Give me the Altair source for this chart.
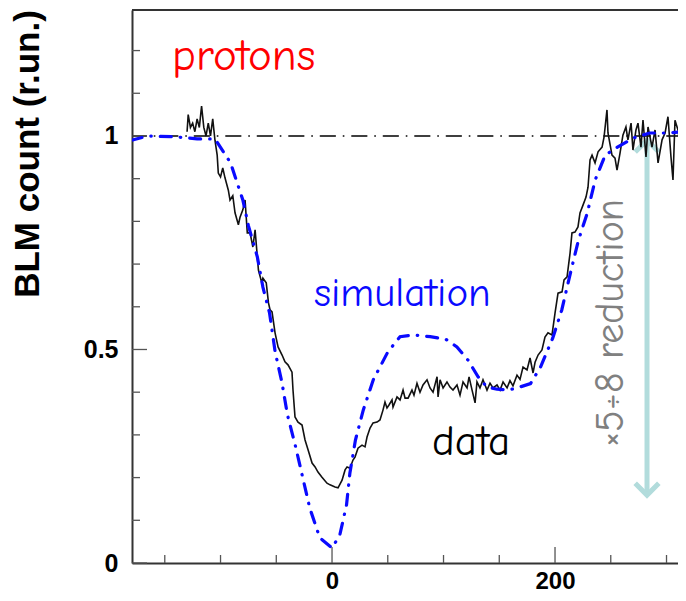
import altair as alt
import pandas as pd

# ---------------- data ----------------
data_x = [-130, -129, -127, -125, -123, -121, -119, -117, -115, -113, -111, -109, -107, -105,
          -103, -102, -100, -98, -96, -93, -91.5, -89, -87, -84, -82.5, -80, -78, -76, -73.5,
          -71, -69, -67, -66, -63, -62, -59, -57, -55.6, -53.8, -51.1, -48.4, -44.8, -42.2,
          -39.5, -35.9, -35.0, -33.2, -30.5, -26.9, -24.2, -21.5, -17.9, -15.2, -12.6, -9.0,
          -4.5, -1.8, 2.7, 5.4, 9.0, 11.7, 13.5, 16.1, 18.8, 20.6, 23.3, 26.9, 29.6, 31.4,
          34.1, 36.8, 40.4, 43.0, 45.7, 47.5, 49.3, 51.1, 53.8, 54.7, 58.3, 61.0, 63.7, 65.5,
          68.2, 71.7, 73.5, 76.2, 78.9, 81.6, 85.2, 87.9, 90.6, 94.2, 95.1, 96.9, 99.6, 103.1,
          105.8, 108.5, 112.1, 114.8, 117.5, 121.1, 122.9, 125.6, 128.3, 130.0, 132.7, 135.4,
          139.0, 141.7, 144.4, 148.0, 150.7, 153.4, 157.0, 159.6, 162.3, 165.9, 168.6, 171.3,
          174.9, 177.6, 180.3, 182.1, 184.8, 188.3, 191.0, 193.7, 197.3, 200.0, 202.7, 206.3,
          208.1, 210.8, 213.5, 215.2, 217.9, 220.6, 222.4, 225.1, 227.8, 229.6, 231.4, 233.2,
          235.9, 238.6, 242.2, 244.0, 246.6, 247.5, 251.1, 253.8, 255.6, 258.3, 260.9, 263.6,
          265.4, 268.2, 269.9, 272.6, 274.4, 277.1, 278.9, 281.6, 283.4, 287.0, 289.7, 292.4,
          296.0, 298.7, 301.3, 304.0, 305.8, 307.6, 310.3, 313.9, 316.6]
data_y = [1.01, 1.05, 1.02, 1.03, 1.01, 1.04, 1.02, 1.07, 1.02, 1.0, 1.03, 1.0, 1.04, 0.99,
          0.955, 0.913, 0.904, 0.925, 0.902, 0.873, 0.85, 0.86, 0.82, 0.792, 0.81, 0.827, 0.85,
          0.773, 0.773, 0.74, 0.78, 0.717, 0.686, 0.656, 0.667, 0.656, 0.609, 0.593, 0.588,
          0.539, 0.506, 0.487, 0.471, 0.464, 0.447, 0.405, 0.342, 0.33, 0.323, 0.288, 0.265,
          0.234, 0.225, 0.213, 0.201, 0.187, 0.183, 0.178, 0.176, 0.194, 0.218, 0.225, 0.222,
          0.241, 0.248, 0.269, 0.276, 0.272, 0.295, 0.316, 0.328, 0.33, 0.335, 0.358, 0.377,
          0.363, 0.37, 0.382, 0.365, 0.389, 0.382, 0.405, 0.386, 0.386, 0.405, 0.393, 0.421,
          0.4, 0.417, 0.429, 0.41, 0.4, 0.436, 0.389, 0.429, 0.41, 0.424, 0.412, 0.405, 0.417,
          0.393, 0.424, 0.41, 0.436, 0.405, 0.375, 0.424, 0.41, 0.429, 0.405, 0.421, 0.41,
          0.417, 0.405, 0.424, 0.41, 0.427, 0.415, 0.44, 0.43, 0.459, 0.452, 0.48, 0.445, 0.47,
          0.487, 0.499, 0.529, 0.539, 0.534, 0.585, 0.632, 0.635, 0.663, 0.67, 0.726, 0.773,
          0.775, 0.787, 0.82, 0.838, 0.857, 0.88, 0.944, 0.955, 0.937, 0.963, 0.974, 0.998,
          1.061, 1.007, 0.955, 0.948, 0.92, 0.96, 1.002, 1.021, 0.991, 1.03, 0.967, 1.014,
          1.03, 0.974, 1.037, 0.951, 1.021, 0.974, 1.014, 0.937, 0.991, 1.007, 1.045, 0.951,
          0.897, 1.037, 1.014, 0.937, 1.03]

sim_x = [-180, -165, -140, -121, -105, -91, -80, -75, -67, -62, -56, -51, -45, -40, -33, -20,
         -11, 0, 7, 13, 16, 21, 28, 37, 50, 61, 73, 88, 102, 112, 122, 131, 139, 148, 158, 166,
         178, 187, 198, 206, 213, 221, 229, 236, 245, 256, 270, 285, 300, 317]
sim_y = [0.99, 1.0, 0.998, 0.993, 0.993, 0.937, 0.85, 0.79, 0.717, 0.646, 0.585, 0.494, 0.424,
         0.347, 0.276, 0.129, 0.059, 0.035, 0.066, 0.136, 0.21, 0.288, 0.358, 0.429, 0.494,
         0.53, 0.534, 0.53, 0.524, 0.506, 0.475, 0.436, 0.412, 0.407, 0.405, 0.41, 0.42, 0.459,
         0.527, 0.592, 0.67, 0.756, 0.82, 0.897, 0.955, 0.974, 0.995, 1.007, 1.007, 1.01]

ref_x = [-180, 320]
ref_y = [1.0, 1.0]

arrow_x = [282.5]
arrow_y_low = [0.159]
arrow_y_high = [0.99]

ytick_minor = [0.1, 0.2, 0.3, 0.4, 0.6, 0.7, 0.8, 0.9, 1.1, 1.2]
ytick_major = [0, 0.5, 1]
xtick_minor = [-150, -100, -50, 50, 100, 150, 250, 300]
xtick_major = [0, 200]

# ---------------- layout ----------------
W, H = 546, 553
xs = alt.Scale(domain=[-179.4, 310.3], nice=False, zero=False)
ys = alt.Scale(domain=[0, 1.295], nice=False, zero=False)

df_data = pd.DataFrame({"x": data_x, "y": data_y})
df_sim = pd.DataFrame({"x": sim_x, "y": sim_y})
df_ref = pd.DataFrame({"x": ref_x, "y": ref_y})
df_arrow = pd.DataFrame({"x": arrow_x, "lo": arrow_y_low, "hi": arrow_y_high})
one = pd.DataFrame({"a": [0]})

comic = "Comic Neue, Noto Sans"
axis_font = "Liberation Sans"

x_axis = alt.Axis(values=xtick_major, ticks=False, grid=False, domainColor="#333333",
                  domainWidth=2, labelFont=axis_font, labelFontWeight="bold",
                  labelFontSize=24, labelColor="black", labelPadding=6, title="")
y_axis = alt.Axis(values=ytick_major, format="~g", ticks=False, grid=False,
                  domainColor="#333333", domainWidth=2, labelFont=axis_font,
                  labelFontWeight="bold", labelFontSize=25, labelColor="black",
                  labelPadding=14, title="")

ref_line = alt.Chart(df_ref).mark_line(
    color="black", strokeWidth=1.5, strokeDash=[15, 8, 0.5, 8], strokeCap="round", clip=True
).encode(x=alt.X("x:Q", scale=xs, axis=x_axis), y=alt.Y("y:Q", scale=ys, axis=y_axis))

data_line = alt.Chart(df_data).mark_line(
    color="#111111", strokeWidth=1.6, clip=True
).encode(x=alt.X("x:Q", scale=xs), y=alt.Y("y:Q", scale=ys))

sim_line = alt.Chart(df_sim).mark_line(
    color="#0a0aff", strokeWidth=3.2, strokeDash=[11, 9, 0.5, 9], strokeCap="round",
    clip=True
).encode(x=alt.X("x:Q", scale=xs), y=alt.Y("y:Q", scale=ys))

arrow_color = "#b2dcdc"
arrow_shaft = alt.Chart(df_arrow).mark_rule(color=arrow_color, strokeWidth=5).encode(
    x=alt.X("x:Q", scale=xs), y=alt.Y("lo:Q", scale=ys), y2="hi:Q")
arrow_top = alt.Chart(df_arrow).mark_point(
    shape="M -1 1 L 0 0 L 1 1", filled=False, stroke=arrow_color, strokeWidth=5,
    size=560, opacity=1
).encode(x=alt.X("x:Q", scale=xs), y=alt.Y("hi:Q", scale=ys))
arrow_bot = alt.Chart(df_arrow).mark_point(
    shape="M -1 -1 L 0 0 L 1 -1", filled=False, stroke=arrow_color, strokeWidth=5,
    size=560, opacity=1
).encode(x=alt.X("x:Q", scale=xs), y=alt.Y("lo:Q", scale=ys))

tick_color = "#555555"
yt_minor = alt.Chart(pd.DataFrame({"y": ytick_minor})).mark_rule(
    color=tick_color, strokeWidth=1.3).encode(
    y=alt.Y("y:Q", scale=ys), x=alt.value(0), x2=alt.value(8))
yt_major = alt.Chart(pd.DataFrame({"y": ytick_major})).mark_rule(
    color=tick_color, strokeWidth=1.3).encode(
    y=alt.Y("y:Q", scale=ys), x=alt.value(0), x2=alt.value(15))
xt_minor = alt.Chart(pd.DataFrame({"x": xtick_minor})).mark_rule(
    color=tick_color, strokeWidth=1.3).encode(
    x=alt.X("x:Q", scale=xs), y=alt.value(H), y2=alt.value(H - 8))
xt_major = alt.Chart(pd.DataFrame({"x": xtick_major})).mark_rule(
    color=tick_color, strokeWidth=1.3).encode(
    x=alt.X("x:Q", scale=xs), y=alt.value(H), y2=alt.value(H - 16))

top_frame = alt.Chart(one).mark_rule(color="#333333", strokeWidth=2).encode(
    x=alt.value(0), x2=alt.value(W), y=alt.value(0))


def label(txt, x, y, color, size, font=comic, angle=0, align="left",
          baseline="alphabetic", weight="normal"):
    return alt.Chart(one).mark_text(
        text=txt, color=color, fontSize=size, font=font, angle=angle, align=align,
        baseline=baseline, fontWeight=weight
    ).encode(x=alt.value(x), y=alt.value(y))


t_protons = label("protons", 40, 60, "#ff0000", 45)
t_sim = label("simulation", 182, 296, "#0a0aff", 41)
t_data = label("data", 300, 445, "black", 43)
t_red = label("×5÷8 reduction", 479, 313, "#808080", 40, angle=270, align="center",
              baseline="middle")
t_ytitle = label("BLM count (r.un.)", -104, 144, "black", 35, font=axis_font,
                 angle=270, align="center", baseline="middle", weight="bold")

chart = alt.layer(
    ref_line, yt_minor, yt_major, xt_minor, xt_major, top_frame,
    arrow_shaft, arrow_top, arrow_bot,
    data_line, sim_line,
    t_protons, t_sim, t_data, t_red, t_ytitle
).properties(
    width=W, height=H,
    autosize=alt.AutoSizeParams(type="none"),
    padding={"left": 124, "top": 2, "right": 0, "bottom": 30},
    background="white"
).configure_view(strokeOpacity=0)

chart.save("out.html", embed_options={"renderer": "svg", "actions": False})
